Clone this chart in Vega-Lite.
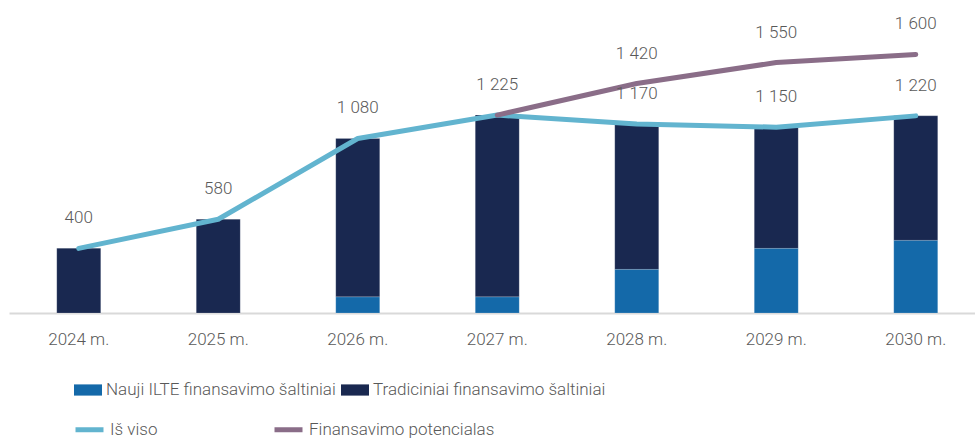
{
  "$schema": "https://vega.github.io/schema/vega-lite/v6.json",
  "width": 966,
  "height": 307,
  "autosize": "none",
  "padding": {"left": 9, "top": 6, "right": 0, "bottom": 126},
  "background": "#ffffff",
  "config": {
    "view": {"stroke": null},
    "font": "Roboto",
    "locale": {"number": {"decimal": ",", "thousands": " ", "grouping": [3], "currency": ["", " €"]}},
    "legend": {"padding": 0}
  },
  "data": {
    "values": [
      {"year": "2024 m.", "series": "Nauji ILTE finansavimo šaltiniai", "value": 0},
      {"year": "2025 m.", "series": "Nauji ILTE finansavimo šaltiniai", "value": 0},
      {"year": "2026 m.", "series": "Nauji ILTE finansavimo šaltiniai", "value": 100},
      {"year": "2027 m.", "series": "Nauji ILTE finansavimo šaltiniai", "value": 100},
      {"year": "2028 m.", "series": "Nauji ILTE finansavimo šaltiniai", "value": 270},
      {"year": "2029 m.", "series": "Nauji ILTE finansavimo šaltiniai", "value": 400},
      {"year": "2030 m.", "series": "Nauji ILTE finansavimo šaltiniai", "value": 450},
      {"year": "2024 m.", "series": "Tradiciniai finansavimo šaltiniai", "value": 400},
      {"year": "2025 m.", "series": "Tradiciniai finansavimo šaltiniai", "value": 580},
      {"year": "2026 m.", "series": "Tradiciniai finansavimo šaltiniai", "value": 980},
      {"year": "2027 m.", "series": "Tradiciniai finansavimo šaltiniai", "value": 1125},
      {"year": "2028 m.", "series": "Tradiciniai finansavimo šaltiniai", "value": 900},
      {"year": "2029 m.", "series": "Tradiciniai finansavimo šaltiniai", "value": 750},
      {"year": "2030 m.", "series": "Tradiciniai finansavimo šaltiniai", "value": 770},
      {"year": "2024 m.", "series": "Iš viso", "value": 400},
      {"year": "2025 m.", "series": "Iš viso", "value": 580},
      {"year": "2026 m.", "series": "Iš viso", "value": 1080},
      {"year": "2027 m.", "series": "Iš viso", "value": 1225},
      {"year": "2028 m.", "series": "Iš viso", "value": 1170},
      {"year": "2029 m.", "series": "Iš viso", "value": 1150},
      {"year": "2030 m.", "series": "Iš viso", "value": 1220},
      {"year": "2027 m.", "series": "Finansavimo potencialas", "value": 1225},
      {"year": "2028 m.", "series": "Finansavimo potencialas", "value": 1420},
      {"year": "2029 m.", "series": "Finansavimo potencialas", "value": 1550},
      {"year": "2030 m.", "series": "Finansavimo potencialas", "value": 1600}
    ]
  },
  "encoding": {
    "x": {
      "field": "year", "type": "nominal", "sort": null,
      "scale": {"range": [0, 976.5], "paddingInner": 0.685, "paddingOuter": 0.3425},
      "axis": {
        "title": null, "labelAngle": 0, "ticks": false, "labelFontSize": 17, "labelFontWeight": 300,
        "labelColor": "#595959", "labelPadding": 18, "domainColor": "#d9d9d9", "domainWidth": 2
      }
    }
  },
  "layer": [
    {
      "transform": [{"filter": "datum.series == 'Nauji ILTE finansavimo šaltiniai' || datum.series == 'Tradiciniai finansavimo šaltiniai'"}],
      "mark": {"type": "bar", "stroke": "#ffffff", "strokeOpacity": 0.25, "strokeWidth": 0.6},
      "encoding": {
        "y": {"field": "value", "type": "quantitative", "stack": "zero", "scale": {"domain": [0, 1900], "nice": false, "zero": true}, "axis": null},
        "fill": {
          "field": "series", "type": "nominal",
          "scale": {"domain": ["Nauji ILTE finansavimo šaltiniai", "Tradiciniai finansavimo šaltiniai"], "range": ["#1469a9", "#192850"]},
          "legend": {
            "title": null, "orient": "none", "legendX": 65, "legendY": 370, "direction": "horizontal", "columns": 2,
            "columnPadding": 5, "symbolType": "M-1,-0.4H1V0.4H-1Z", "symbolSize": 784, "symbolStrokeWidth": 0,
            "labelFontSize": 17, "labelFontWeight": 300, "labelColor": "#595959", "labelOffset": 4, "labelLimit": 400
          }
        },
        "order": {"field": "series", "sort": "ascending"}
      }
    },
    {
      "transform": [{"filter": "datum.series == 'Iš viso' || datum.series == 'Finansavimo potencialas'"}],
      "mark": {"type": "line", "strokeWidth": 5, "strokeCap": "round", "strokeJoin": "round"},
      "encoding": {
        "y": {"field": "value", "type": "quantitative"},
        "stroke": {
          "field": "series", "type": "nominal",
          "scale": {"domain": ["Iš viso", "Finansavimo potencialas"], "range": ["#62b4cf", "#8a6d88"]},
          "legend": {
            "title": null, "orient": "none", "legendX": 64, "legendY": 407, "direction": "horizontal", "columns": 2,
            "columnPadding": 106, "symbolType": "stroke", "symbolSize": 784, "symbolStrokeWidth": 5,
            "labelFontSize": 17, "labelFontWeight": 300, "labelColor": "#595959", "labelOffset": 4, "labelLimit": 400
          }
        }
      }
    },
    {
      "transform": [{"filter": "datum.series == 'Iš viso' || (datum.series == 'Finansavimo potencialas' && datum.year != '2027 m.')"}],
      "mark": {"type": "text", "dy": -30, "fontSize": 17, "fontWeight": 300, "color": "#595959", "baseline": "middle"},
      "encoding": {
        "y": {"field": "value", "type": "quantitative"},
        "text": {"field": "value", "type": "quantitative", "format": ",d"}
      }
    }
  ]
}
